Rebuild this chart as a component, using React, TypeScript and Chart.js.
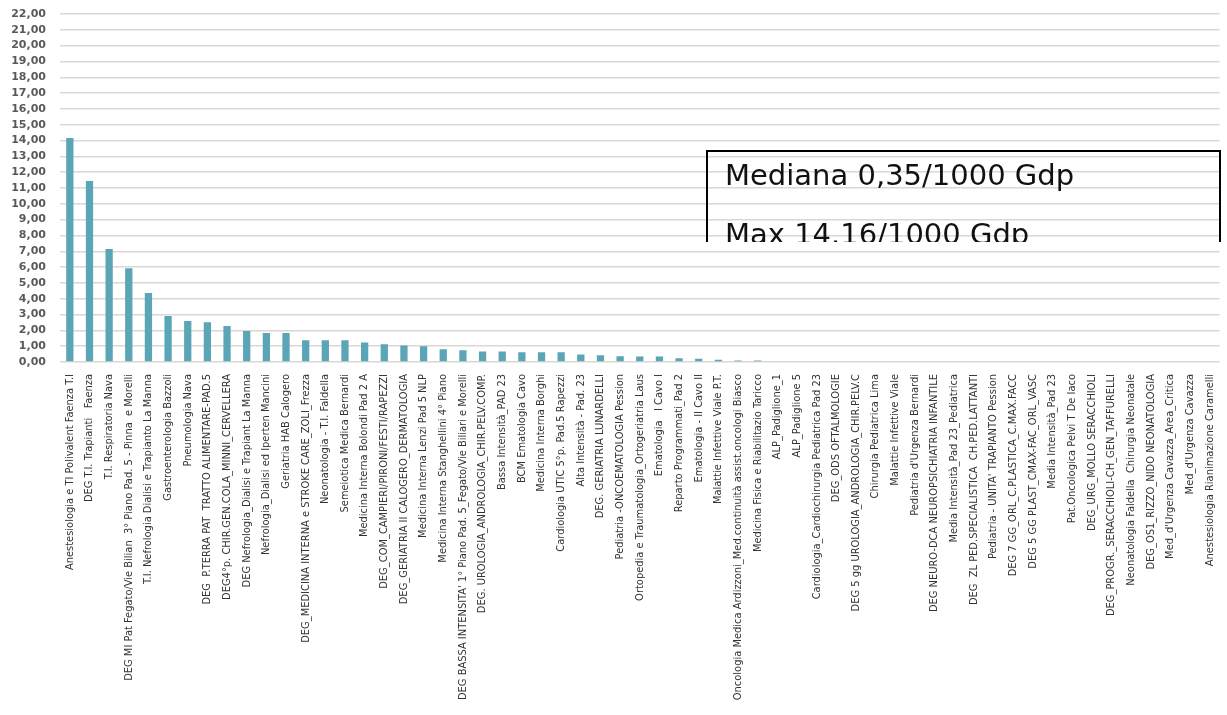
import React, { useEffect, useRef } from "react";
import { Chart, registerables } from "chart.js";

Chart.register(...registerables);

const categories: string[] = [
  "Anestesiologia e TI Polivalent Faenza T.I",
  "DEG T.I. Trapianti   Faenza",
  "T.I. Respiratoria Nava",
  "DEG MI Pat Fegato/Vie Bilian  3° Piano Pad. 5 - Pinna  e Morelli",
  "T.I. Nefrologia Dialisi e Trapianto La Manna",
  "Gastroenterologia Bazzoli",
  "Pneumologia Nava",
  "DEG  P.TERRA PAT  TRATTO ALIMENTARE-PAD.5",
  "DEG4°p. CHIR.GEN.COLA_MINNI_CERVELLERA",
  "DEG Nefrologia_Dialisi e Trapiant La Manna",
  "Nefrologia_Dialisi ed Iperten Mancini",
  "Geriatria HAB Calogero",
  "DEG_MEDICINA INTERNA e STROKE CARE_ZOLI_Frezza",
  "Neonatologia - T.I. Faldella",
  "Semeiotica Medica Bernardi",
  "Medicina Interna Bolondi Pad 2 A",
  "DEG_COM_CAMPIERI/PIRONI/FESTI/RAPEZZI",
  "DEG_GERIATRIA II CALOGERO_DERMATOLOGIA",
  "Medicina Interna Lenzi Pad 5 NLP",
  "Medicina Interna Stanghellini 4° Piano",
  "DEG BASSA INTENSITA' 1° Piano Pad. 5_Fegato/Vie Biliari e Morelli",
  "DEG. UROLOGIA_ANDROLOGIA_CHIR.PELV.COMP.",
  "Bassa Intensità_PAD 23",
  "BCM Ematologia Cavo",
  "Medicina Interna Borghi",
  "Cardiologia UTIC 5°p. Pad.5 Rapezzi",
  "Alta Intensità - Pad. 23",
  "DEG. GERIATRIA LUNARDELLI",
  "Pediatria -ONCOEMATOLOGIA Pession",
  "Ortopedia e Traumatologia_Ortogeriatria Laus",
  "Ematologia   I Cavo I",
  "Reparto Programmati_Pad 2",
  "Ematologia - II Cavo II",
  "Malattie Infettive Viale P.T.",
  "Oncologia Medica Ardizzoni_Med.continuità assist.oncologi Biasco",
  "Medicina Fisica e Riabilitazio Taricco",
  "ALP_Padiglione_1",
  "ALP_Padiglione 5",
  "Cardiologia_Cardiochirurgia Pediatrica Pad 23",
  "DEG_ODS OFTALMOLOGIE",
  "DEG 5 gg UROLOGIA_ANDROLOGIA_CHIR.PELV.C",
  "Chirurgia Pediatrica Lima",
  "Malattie Infettive Viale",
  "Pediatria d'Urgenza Bernardi",
  "DEG NEURO-DCA NEUROPSICHIATRIA INFANTILE",
  "Media Intensità_Pad 23_Pediatrica",
  "DEG  ZL PED.SPECIALISTICA  CH.PED.LATTANTI",
  "Pediatria - UNITA' TRAPIANTO Pession",
  "DEG 7 GG_ORL_C.PLASTICA_C.MAX.FACC",
  "DEG 5 GG PLAST_CMAX-FAC_ORL_VASC",
  "Media Intensità_Pad 23",
  "Pat.Oncologica Pelvi T De Iaco",
  "DEG_URG_MOLLO SERACCHIOLI",
  "DEG_PROGR._SERACCHIOLI-CH_GEN_TAFFURELLI",
  "Neonatologia Faldella  Chirurgia Neonatale",
  "DEG_OS1_RIZZO_NIDO NEONATOLOGIA",
  "Med_d'Urgenza Cavazza_Area_Critica",
  "Med_d'Urgenza Cavazza",
  "Anestesiologia Rianimazione Caramelli",
];

const values: number[] = [
  14.16, 11.45, 7.14, 5.92, 4.36, 2.91, 2.59, 2.51, 2.28, 1.96,
  1.83, 1.83, 1.37, 1.37, 1.37, 1.24, 1.12, 1.05, 0.99, 0.8,
  0.74, 0.67, 0.67, 0.61, 0.61, 0.61, 0.48, 0.42, 0.36, 0.35,
  0.35, 0.23, 0.21, 0.15, 0.1, 0.1, 0, 0, 0, 0,
  0, 0, 0, 0, 0, 0, 0, 0, 0, 0,
  0, 0, 0, 0, 0, 0, 0, 0, 0,
];

const yMin = 0;
const yMax = 22;
const yStep = 1;

const noteLines: string[] = ["Mediana 0,35/1000 Gdp", "Max 14.16/1000 Gdp"];

export default function App() {
  const canvasRef = useRef<HTMLCanvasElement | null>(null);

  useEffect(() => {
    const canvas = canvasRef.current;
    if (!canvas) return;
    const chart = new Chart(canvas, {
      type: "bar",
      data: {
        labels: categories,
        datasets: [
          {
            data: values,
            backgroundColor: "#5AA5B6",
            borderWidth: 0,
            barPercentage: 0.37,
            categoryPercentage: 1,
          },
        ],
      },
      options: {
        responsive: false,
        animation: false,
        devicePixelRatio: 1,
        layout: { padding: { top: 14, right: 7, left: 0, bottom: 0 } },
        plugins: {
          legend: { display: false },
          tooltip: { enabled: false },
        },
        scales: {
          x: {
            grid: { display: false },
            border: { display: false },
            ticks: {
              autoSkip: false,
              minRotation: 90,
              maxRotation: 90,
              padding: 4,
              color: "#333333",
              font: {
                family: "'DejaVu Sans Condensed', 'Liberation Sans Narrow', sans-serif",
                size: 11,
              },
            },
            afterFit: (scale: any) => {
              scale.height = 353;
            },
          },
          y: {
            min: yMin,
            max: yMax,
            border: { display: false },
            grid: {
              color: "#dbd8d4",
              lineWidth: 1.5,
              drawTicks: true,
              tickLength: 14,
              tickColor: "rgba(0,0,0,0)",
            },
            ticks: {
              stepSize: yStep,
              autoSkip: false,
              padding: 0,
              color: "#595959",
              font: { family: "'DejaVu Sans', sans-serif", size: 11, weight: "bold" },
              callback: (v: any) => Number(v).toFixed(2).replace(".", ","),
            },
            afterFit: (scale: any) => {
              scale.width = 60;
            },
          },
        },
      },
    });
    return () => chart.destroy();
  }, []);

  return (
    <div
      style={{
        position: "fixed",
        left: 0,
        top: 0,
        width: 1227,
        height: 715,
        background: "#ffffff",
        overflow: "hidden",
      }}
    >
      <canvas ref={canvasRef} width={1227} height={715} style={{ display: "block" }} />
      <div
        style={{
          position: "absolute",
          left: 706,
          top: 150,
          width: 511,
          height: 90,
          margin: 0,
          padding: 0,
          borderTop: "2px solid #000",
          borderLeft: "2px solid #000",
          borderRight: "2px solid #000",
          overflow: "hidden",
          fontFamily: "'DejaVu Sans', sans-serif",
          fontSize: 29,
          color: "#111",
          whiteSpace: "nowrap",
          textAlign: "left",
        }}
      >
        <div style={{ position: "absolute", left: 17, top: 6, margin: 0, lineHeight: "34px" }}>{noteLines[0]}</div>
        <div style={{ position: "absolute", left: 17, top: 65, margin: 0, lineHeight: "34px" }}>{noteLines[1]}</div>
      </div>
    </div>
  );
}
